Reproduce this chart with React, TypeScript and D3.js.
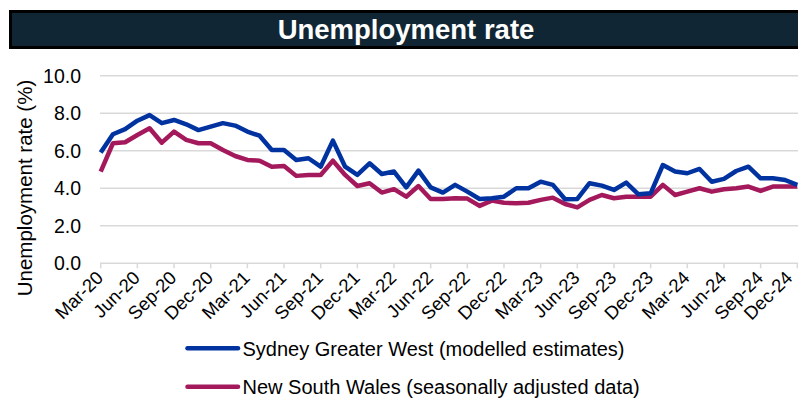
import React from "react";
import * as d3 from "d3";

const months: string[] = d3
  .timeMonth.range(new Date(2020, 2, 1), new Date(2025, 0, 1))
  .map((d) => d3.timeFormat("%b-%y")(d));

const tickLabels = [
  "Mar-20", "Jun-20", "Sep-20", "Dec-20", "Mar-21", "Jun-21", "Sep-21", "Dec-21",
  "Mar-22", "Jun-22", "Sep-22", "Dec-22", "Mar-23", "Jun-23", "Sep-23", "Dec-23",
  "Mar-24", "Jun-24", "Sep-24", "Dec-24",
];

const yTicks = [0, 2, 4, 6, 8, 10];

const sydneyGW = [
  5.9, 6.88, 7.15, 7.6, 7.9, 7.47, 7.64, 7.41, 7.1, 7.29, 7.47, 7.34, 7.02, 6.8,
  6.04, 6.04, 5.51, 5.6, 5.15, 6.54, 5.15, 4.71, 5.33, 4.76, 4.89, 4.05, 4.94,
  4.05, 3.77, 4.18, 3.82, 3.43, 3.47, 3.55, 4.0, 4.0, 4.35, 4.18, 3.41, 3.43,
  4.27, 4.14, 3.91, 4.3, 3.68, 3.73, 5.24, 4.89, 4.8, 5.03, 4.35, 4.5, 4.92,
  5.15, 4.53, 4.53, 4.44, 4.18,
];

const nsw = [
  4.89, 6.4, 6.45, 6.84, 7.2, 6.43, 7.02, 6.58, 6.4, 6.4, 6.04, 5.72, 5.51, 5.47,
  5.15, 5.19, 4.66, 4.71, 4.71, 5.47, 4.71, 4.12, 4.27, 3.77, 3.95, 3.55, 4.12,
  3.43, 3.43, 3.47, 3.45, 3.06, 3.34, 3.23, 3.2, 3.23, 3.38, 3.5, 3.16, 2.98,
  3.38, 3.64, 3.47, 3.55, 3.55, 3.55, 4.18, 3.64, 3.82, 4.0, 3.82, 3.95, 4.0,
  4.09, 3.86, 4.09, 4.09, 4.09,
];

const seriesNames = [
  "Sydney Greater West (modelled estimates)",
  "New South Wales (seasonally adjusted data)",
];

const BLUE = "#0033a0";
const RED = "#a3195b";
const FONT = "'Liberation Sans', Arial, sans-serif";

export default function App() {
  const W = 798;
  const H = 398;
  const x = d3.scalePoint<string>().domain(months).range([100.7, 797.3]);
  const y = d3.scaleLinear().domain([0, 10]).range([263.3, 75.7]);

  const line = d3
    .line<number>()
    .x((_, i) => x(months[i]) as number)
    .y((d) => y(d))
    .curve(d3.curveLinear);

  const series = [
    { name: seriesNames[0], values: sydneyGW, color: BLUE },
    { name: seriesNames[1], values: nsw, color: RED },
  ];

  return (
    <svg
      width={W}
      height={H}
      style={{ position: "absolute", left: 0, top: 0, background: "#fff" }}
      fontFamily={FONT}
    >
      {/* Title bar */}
      <rect x={10.5} y={11.5} width={800} height={36} fill="#112634" stroke="#000" strokeWidth={3} />
      <text
        x={406}
        y={39}
        textAnchor="middle"
        fill="#fff"
        fontWeight="bold"
        fontSize={27.5}
      >
        Unemployment rate
      </text>

      {/* Gridlines */}
      {yTicks.map((t) => (
        <line
          key={t}
          x1={100}
          x2={W}
          y1={y(t)}
          y2={y(t)}
          stroke="#d9d9d9"
          strokeWidth={1.5}
        />
      ))}
      {/* Y tick labels */}
      {yTicks.map((t) => (
        <text
          key={"l" + t}
          x={81}
          y={y(t)}
          dy="0.36em"
          textAnchor="end"
          fontSize={19.5}
          fill="#000"
        >
          {t.toFixed(1)}
        </text>
      ))}

      {/* Y title */}
      <text
        transform={`translate(32,188) rotate(-90)`}
        textAnchor="middle"
        fontSize={20.5}
        fill="#000"
      >
        Unemployment rate (%)
      </text>

      {/* X ticks */}
      {tickLabels.map((lab) => {
        const px = x(lab) as number;
        return (
          <line
            key={"t" + lab}
            x1={px}
            x2={px}
            y1={y(0)}
            y2={y(0) + 5}
            stroke="#d9d9d9"
            strokeWidth={1.5}
          />
        );
      })}
      {tickLabels.map((lab) => {
        const px = Math.min((x(lab) as number) - 1, 789);
        return (
          <text
            key={"x" + lab}
            transform={`translate(${px},${y(0) + 11}) rotate(-45)`}
            textAnchor="end"
            fontSize={18.5}
            dy="0.35em"
            fill="#000"
          >
            {lab}
          </text>
        );
      })}

      {/* Lines: NSW under, SGW over */}
      {[series[1], series[0]].map((s) => (
        <path
          key={s.name}
          d={line(s.values) || ""}
          fill="none"
          stroke={s.color}
          strokeWidth={4.5}
          strokeLinejoin="round"
        />
      ))}

      {/* Legend */}
      {series.map((s, i) => {
        const ly = 348.3 + i * 38.4;
        return (
          <g key={"lg" + i}>
            <line
              x1={187.5}
              x2={238}
              y1={ly}
              y2={ly}
              stroke={s.color}
              strokeWidth={4.5}
              strokeLinecap="round"
            />
            <text x={242.5} y={ly} dy="0.36em" fontSize={20} fill="#000">
              {s.name}
            </text>
          </g>
        );
      })}
    </svg>
  );
}
